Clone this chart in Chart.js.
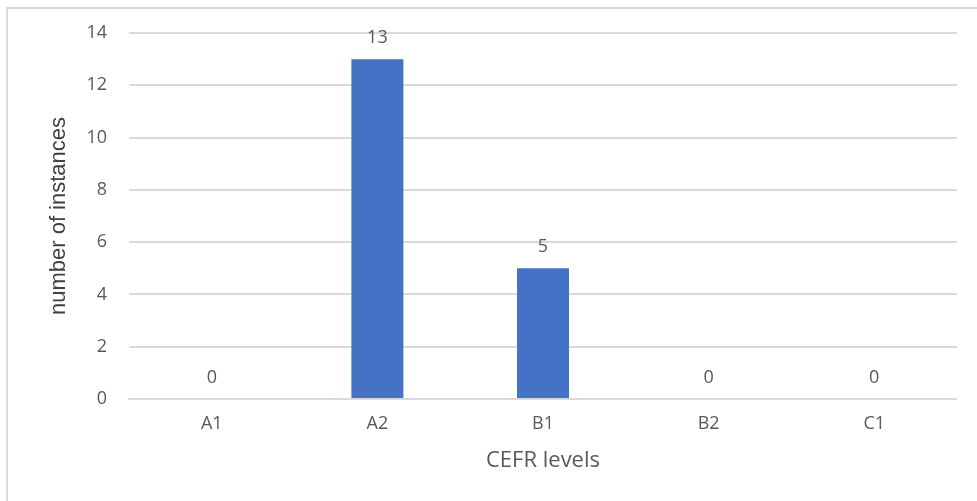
<!DOCTYPE html>
<html>
<head>
<meta charset="utf-8">
<script src="https://cdn.jsdelivr.net/npm/chart.js@4.4.0/dist/chart.umd.min.js"></script>
<style>
  html, body { margin: 0; padding: 0; background: #fff; }
  #frame { position: absolute; left: 6px; top: 7px; width: 1000px; height: 520px;
           border-left: 2px solid #d9d9d9; border-top: 2px solid #d9d9d9; }
  #wrap { position: absolute; left: 0; top: 0; width: 957px; height: 501px; }
</style>
</head>
<body>
<div id="frame"></div>
<div id="wrap"><canvas id="chart" width="957" height="501"></canvas></div>
<script>
const categories = ['A1', 'A2', 'B1', 'B2', 'C1'];
const instances = [0, 13, 5, 0, 0];
const yTicks = [0, 2, 4, 6, 8, 10, 12, 14];

const tickColor = '#595959';

// Writes each bar's value just above its top
const valueLabels = {
  id: 'valueLabels',
  afterDatasetsDraw(chart) {
    const ctx = chart.ctx;
    const meta = chart.getDatasetMeta(0);
    ctx.save();
    ctx.fillStyle = tickColor;
    ctx.font = '18px "Open Sans"';
    ctx.textAlign = 'center';
    ctx.textBaseline = 'middle';
    meta.data.forEach((bar, i) => {
      ctx.fillText(String(instances[i]), bar.x, bar.y - 21);
    });
    ctx.restore();
  }
};

new Chart(document.getElementById('chart'), {
  type: 'bar',
  data: {
    labels: categories,
    datasets: [{
      data: instances,
      backgroundColor: '#4472c4',
      categoryPercentage: 1,
      barPercentage: 0.314
    }]
  },
  options: {
    responsive: false,
    animation: false,
    layout: { padding: { top: 33, right: 0, left: 42, bottom: 23 } },
    plugins: { legend: { display: false }, tooltip: { enabled: false } },
    scales: {
      x: {
        grid: { display: false, drawTicks: false },
        border: { display: true, color: '#d9d9d9', width: 2 },
        ticks: { color: tickColor, font: { family: 'Open Sans', size: 18 }, padding: 14 },
        title: { display: true, text: 'CEFR levels', color: tickColor,
                 font: { family: 'Open Sans', size: 22 } },
        afterFit(scale) { scale.height = 79; }
      },
      y: {
        min: 0, max: 14,
        afterBuildTicks(scale) { scale.ticks = yTicks.map(v => ({ value: v })); },
        grid: { color: '#d9d9d9', lineWidth: 2, drawTicks: false },
        border: { display: false },
        ticks: { color: tickColor, font: { family: 'Open Sans', size: 18 }, padding: 22 },
        title: { display: true, text: 'number of instances', color: '#404040',
                 font: { family: 'Liberation Sans', size: 22 } },
        afterFit(scale) { scale.width = 87; }
      }
    }
  },
  plugins: [valueLabels]
});
</script>
</body>
</html>
